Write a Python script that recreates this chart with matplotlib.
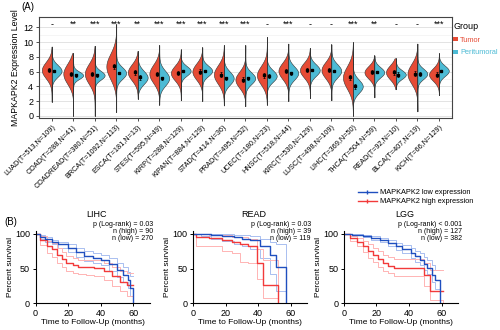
import numpy as np
import matplotlib.pyplot as plt
from matplotlib.patches import Patch
from matplotlib.lines import Line2D

plt.rcParams['font.family'] = ['Liberation Sans', 'DejaVu Sans']

# ---- panel A: expression by cancer type ----
cancers = ["LUAD(T=513,N=109)", "COAD(T=288,N=41)", "COADREAD(T=380,N=51)",
           "BRCA(T=1092,N=113)", "ESCA(T=181,N=13)", "STES(T=595,N=49)",
           "KIRP(T=288,N=129)", "KIPAN(T=884,N=129)", "STAD(T=414,N=36)",
           "PRAD(T=495,N=52)", "UCEC(T=180,N=23)", "HNSC(T=518,N=44)",
           "KIRC(T=530,N=129)", "LUSC(T=498,N=109)", "LIHC(T=369,N=50)",
           "THCA(T=504,N=59)", "READ(T=92,N=10)", "BLCA(T=407,N=19)",
           "KICH(T=66,N=129)"]
sig = ["-", "**", "***", "***", "**", "***", "***", "***", "***", "***",
       "-", "***", "-", "-", "***", "**", "-", "-", "***"]
tumor_mean = [6.2, 5.7, 5.7, 6.7, 5.9, 5.7, 5.8, 6.0, 5.6, 4.9,
              5.5, 6.1, 6.2, 6.2, 5.2, 5.9, 5.9, 5.7, 5.6]
tumor_sd = [1.1, 1.35, 1.35, 1.7, 1.1, 1.25, 1.0, 1.1, 1.25, 1.1,
            1.25, 1.1, 1.0, 1.1, 1.5, 0.85, 0.95, 1.35, 0.85]
tumor_err = [0.3, 0.3, 0.3, 0.35, 0.3, 0.3, 0.3, 0.3, 0.3, 0.3,
             0.35, 0.3, 0.3, 0.3, 0.35, 0.25, 0.3, 0.35, 0.3]
normal_mean = [6.1, 5.5, 5.5, 5.8, 5.2, 5.1, 6.1, 6.1, 5.1, 5.1,
               5.4, 5.8, 6.2, 6.1, 4.0, 5.9, 5.6, 5.7, 6.1]
normal_sd = [0.8, 0.5, 0.6, 0.8, 0.9, 1.0, 0.65, 0.7, 0.9, 0.8,
             0.8, 0.9, 0.8, 0.9, 0.9, 0.7, 0.6, 0.7, 0.7]
normal_err = [0.15, 0.2, 0.2, 0.15, 0.35, 0.2, 0.15, 0.15, 0.2, 0.2,
              0.25, 0.2, 0.15, 0.15, 0.3, 0.15, 0.3, 0.25, 0.15]
range_lo = [1.9, 0.0, 0.0, 0.5, 2.3, 1.5, 2.1, 2.0, 1.4, 1.3,
            1.5, 2.0, 2.4, 2.1, 0.0, 2.5, 3.6, 0.6, 2.8]
range_hi = [9.4, 8.5, 9.5, 12.4, 8.8, 9.6, 9.0, 9.3, 9.6, 9.6,
            10.7, 9.8, 9.2, 9.7, 10.0, 8.2, 7.8, 9.8, 8.5]

# ---- panel B: Kaplan-Meier curves (time in months, survival in %) ----
lihc_low_t = [0, 3, 6, 10, 14, 20, 25, 30, 35, 40, 45, 50, 54, 57, 58, 60]
lihc_low_s = [100, 96, 93, 89, 85, 80, 74, 68, 66, 63, 56, 48, 41, 34, 22, 0]
lihc_low_up = [100, 98, 96, 92, 89, 85, 80, 75, 72, 70, 65, 58, 52, 45, 40, 40]
lihc_low_dn = [100, 93, 89, 85, 80, 74, 67, 61, 58, 55, 47, 38, 30, 22, 10, 0]
lihc_high_t = [0, 3, 7, 10, 13, 16, 19, 23, 26, 31, 36, 42, 47, 52, 56, 60]
lihc_high_s = [100, 92, 82, 78, 70, 64, 58, 55, 53, 52, 51, 46, 39, 31, 27, 27]
lihc_high_up = [100, 97, 90, 87, 80, 74, 68, 65, 63, 63, 62, 58, 52, 46, 44, 44]
lihc_high_dn = [100, 84, 72, 67, 58, 52, 47, 44, 42, 41, 40, 33, 25, 17, 10, 10]

read_low_t = [0, 5, 11, 18, 25, 30, 35, 41, 47, 51, 57]
read_low_s = [100, 100, 98.5, 97, 95, 93, 91, 82, 70, 53, 0]
read_low_up = [100, 100, 100, 100, 99, 98, 97, 93, 88, 86, 0]
read_low_dn = [100, 97, 93, 90, 86, 83, 79, 65, 42, 17, 0]
read_high_t = [0, 2, 10, 18, 24, 29, 34, 39, 43, 52]
read_high_s = [100, 96, 94, 91, 88, 85, 82, 58, 27, 0]
read_high_up = [100, 100, 99, 98, 96, 95, 93, 78, 62, 0]
read_high_dn = [100, 82, 82, 75, 72, 60, 58, 35, 8, 0]

lgg_low_t = [0, 5, 12, 17, 22, 27, 32, 36, 41, 44, 47, 49, 51, 54, 56, 59.2]
lgg_low_s = [100, 99, 96.6, 94, 91.8, 87, 82, 78, 72.5, 68, 63, 57, 51, 41, 34, 0]
lgg_low_up = [100, 100, 98, 96.5, 94, 91, 87, 84, 80, 76, 72, 67, 62, 55, 48, 48]
lgg_low_dn = [100, 98, 95, 91, 88, 83, 77, 72, 65, 60, 55, 48, 42, 30, 20, 0]
lgg_high_t = [0, 4, 8, 12, 15, 18, 21, 24, 27, 30.6, 49, 53, 61]
lgg_high_s = [100, 94, 88, 82, 76, 70, 64, 58, 54, 51, 41, 18, 18]
lgg_high_up = [100, 97, 94, 90, 85, 80, 75, 70, 67, 64, 58, 48, 48]
lgg_high_dn = [100, 90, 82, 74, 66, 60, 53, 47, 43, 39, 25, 5, 0]

km_titles = ["LIHC", "READ", "LGG"]
km_stats = ["p (Log-rank) = 0.03\nn (high) = 90\nn (low) = 270",
            "p (Log-rank) = 0.03\nn (high) = 39\nn (low) = 119",
            "p (Log-rank) < 0.001\nn (high) = 127\nn (low) = 382"]

c_tumor = "#E64B35"
c_norm = "#4DBBD5"
c_low = "#1f4fbf"
c_high = "#f23a3a"
c_low_ci = "#a9bff0"
c_high_ci = "#ffb4b4"

fig = plt.figure(figsize=(5, 3.3), dpi=100)

# ---------------- panel A ----------------
ax = fig.add_axes([0.0776, 0.6424, 0.826, 0.306])
n = len(cancers)
half_w = 0.46
for i in range(n):
    y = np.linspace(range_lo[i], range_hi[i], 300)
    for m, sd, side, col in ((tumor_mean[i], tumor_sd[i], -1, c_tumor),
                             (normal_mean[i], normal_sd[i], 1, c_norm)):
        d = np.exp(-0.5 * ((y - m) / sd) ** 2)
        ax.fill_betweenx(y, i, i + side * half_w * d / d.max(),
                         facecolor=col, edgecolor="#333333", lw=0.4, zorder=2)
    ax.plot([i, i], [range_lo[i], range_hi[i]], color="#333333", lw=0.5, zorder=2)
    ax.text(i, 12.4, sig[i], ha="center", va="center", fontsize=6.5)

xs = np.arange(n)
ax.errorbar(xs - 0.11, tumor_mean, yerr=tumor_err, fmt="s", ms=2.0, color="black",
            elinewidth=0.5, capsize=1.0, capthick=0.5, zorder=3)
ax.errorbar(xs + 0.11, normal_mean, yerr=normal_err, fmt="s", ms=2.0, color="black",
            elinewidth=0.5, capsize=1.0, capthick=0.5, zorder=3)

ax.set_xlim(-0.6, n - 0.4)
ax.set_ylim(-0.3, 13.4)
ax.set_yticks(range(0, 13, 2))
ax.set_yticks(range(1, 13, 2), minor=True)
ax.grid(which="major", axis="y", color="#e3e3e3", lw=0.7)
ax.grid(which="minor", axis="y", color="#f1f1f1", lw=0.5)
ax.set_axisbelow(True)
ax.set_xticks(xs)
ax.set_xticklabels(cancers, rotation=45, ha="right", rotation_mode="anchor", fontsize=5.2)
ax.tick_params(axis="y", labelsize=6.5, length=2.5, width=0.6, color="#333333", pad=1.5)
ax.tick_params(axis="x", length=2.5, width=0.6, color="#333333", pad=1.5)
ax.tick_params(which="minor", length=0)
ax.set_ylabel("MAPKAPK2 Expression Level", fontsize=6.3, labelpad=2)
for s in ax.spines.values():
    s.set_color("#444444")
    s.set_linewidth(0.8)

leg = ax.legend([Patch(facecolor=c_tumor), Patch(facecolor=c_norm)],
                ["Tumor", "Peritumoral"], title="Group", loc="upper left",
                bbox_to_anchor=(0.995, 0.99), frameon=False, fontsize=5.3,
                title_fontsize=6.5, labelcolor=[c_tumor, c_norm],
                handlelength=0.6, handleheight=0.6, handletextpad=0.3,
                labelspacing=0.8, borderaxespad=0.3, borderpad=0.2, alignment="left")

fig.text(0.056, 0.978, "(A)", fontsize=7, va="center", ha="center")
fig.text(0.022, 0.328, "(B)", fontsize=7, va="center", ha="center")

# ---------------- panel B ----------------
km_data = [
    (lihc_low_t, lihc_low_s, lihc_low_up, lihc_low_dn,
     lihc_high_t, lihc_high_s, lihc_high_up, lihc_high_dn),
    (read_low_t, read_low_s, read_low_up, read_low_dn,
     read_high_t, read_high_s, read_high_up, read_high_dn),
    (lgg_low_t, lgg_low_s, lgg_low_up, lgg_low_dn,
     lgg_high_t, lgg_high_s, lgg_high_up, lgg_high_dn),
]
lefts = [0.071, 0.386, 0.6876]
for k, left in enumerate(lefts):
    kax = fig.add_axes([left, 0.081, 0.228, 0.2205])
    lt, ls, lu, ld, ht, hs, hu, hd = km_data[k]
    kax.step(lt, lu, where="post", color=c_low_ci, lw=0.7)
    kax.step(lt, ld, where="post", color=c_low_ci, lw=0.7)
    kax.step(ht, hu, where="post", color=c_high_ci, lw=0.7)
    kax.step(ht, hd, where="post", color=c_high_ci, lw=0.7)
    kax.step(ht, hs, where="post", color=c_high, lw=1.0)
    kax.step(lt, ls, where="post", color=c_low, lw=1.0)
    kax.set_xlim(0, 70)
    kax.set_ylim(0, 105)
    kax.set_xticks([0, 20, 40, 60])
    kax.set_yticks([0, 50, 100])
    kax.spines["top"].set_visible(False)
    kax.spines["right"].set_visible(False)
    for s in ("left", "bottom"):
        kax.spines[s].set_linewidth(0.8)
    kax.tick_params(labelsize=6.5, length=2.5, width=0.7, pad=1.5)
    kax.set_xlabel("Time to Follow-Up (months)", fontsize=6, labelpad=1)
    kax.set_ylabel("Percent survival", fontsize=6, labelpad=1)
    kax.text(0.537, 1.22, km_titles[k], transform=kax.transAxes,
             ha="center", va="center", fontsize=6.5)
    kax.text(1.035, 1.125, km_stats[k], transform=kax.transAxes,
             ha="right", va="top", fontsize=5, linespacing=0.95)

handles = [Line2D([], [], color=c_low, lw=1.0, marker="|", ms=3),
           Line2D([], [], color=c_high, lw=1.0, marker="|", ms=3)]
fig.legend(handles, ["MAPKAPK2 low expression", "MAPKAPK2 high expression"],
           loc="upper left", bbox_to_anchor=(0.705, 0.442), frameon=False,
           fontsize=5.3, handlelength=2.6, handletextpad=0.5, labelspacing=0.25,
           borderpad=0.2)

fig.savefig("out.png", dpi=100)
